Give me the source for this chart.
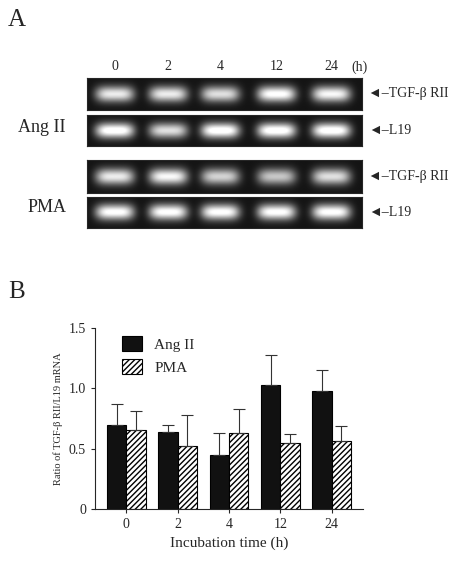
import numpy as np, pandas as pd, matplotlib
matplotlib.use("Agg")
import matplotlib.pyplot as plt, seaborn as sns

times = ["0", "2", "4", "12", "24"]
ang_mean = [0.70, 0.635, 0.45, 1.03, 0.98]
ang_top = [0.87, 0.70, 0.63, 1.28, 1.15]
pma_mean = [0.655, 0.52, 0.63, 0.55, 0.56]
pma_top = [0.81, 0.78, 0.83, 0.62, 0.69]
gel_ang_tgf = [0.85, 0.85, 0.8, 0.95, 0.9]
gel_ang_l19 = [1.0, 0.8, 1.0, 1.0, 1.0]
gel_pma_tgf = [0.85, 0.9, 0.75, 0.7, 0.8]
gel_pma_l19 = [0.95, 0.95, 0.95, 0.95, 0.95]

sns.set_style("ticks")
plt.rcParams["font.family"] = ["Liberation Serif", "DejaVu Serif"]
fig = plt.figure(figsize=(4.74, 5.69), dpi=100)
H = 569.0
def fax(x0, y0, x1, y1):
    return fig.add_axes([x0/474, 1-y1/H, (x1-x0)/474, (y1-y0)/H])

# gels
rows = [(78, 110, gel_ang_tgf, "TGF-β RII"), (115, 146, gel_ang_l19, "L19"),
        (160, 193, gel_pma_tgf, "TGF-β RII"), (197, 228, gel_pma_l19, "L19")]
lane_pos = [0.10, 0.295, 0.485, 0.69, 0.89]
xx, yy = np.meshgrid(np.linspace(0, 1, 300), np.linspace(0, 1, 40))
for y0, y1, inten, lab in rows:
    a = fax(87, y0, 362, y1)
    img = np.full_like(xx, 0.08)
    for p, v in zip(lane_pos, inten):
        img += v * np.exp(-(((xx-p)/0.07)**4) - (((yy-0.5)/0.25)**2))
    a.imshow(img, cmap="gray", vmin=0, vmax=1, aspect="auto")
    a.set_xticks([]); a.set_yticks([])
    fig.text(368/474, 1-((y0+y1)/2)/H, "◄–" + lab, fontsize=10, va="center",
             family=["Liberation Serif", "DejaVu Sans"])
for t, p in zip(times, lane_pos):
    fig.text((87+p*275)/474, 1-67/H, t, ha="center", va="center", fontsize=10)
fig.text(360/474, 1-67/H, "(h)", ha="center", va="center", fontsize=10)
fig.text(8/474, 1-20/H, "A", fontsize=18, va="center")
fig.text(18/474, 1-128/H, "Ang II", fontsize=13, va="center")
fig.text(28/474, 1-208/H, "PMA", fontsize=13, va="center")
fig.text(8/474, 1-292/H, "B", fontsize=18, va="center")

# bar chart
ax = fax(95, 328, 363, 509)
df = pd.DataFrame({"time": times*2, "ratio": ang_mean+pma_mean,
                   "grp": ["Ang II"]*5 + ["PMA"]*5})
sns.barplot(data=df, x="time", y="ratio", hue="grp", order=times,
            palette=["#111111", "white"], edgecolor="black", linewidth=0.8,
            errorbar=None, width=0.75, ax=ax)
tops = ang_top + pma_top
means = ang_mean + pma_mean
for i, bar in enumerate(ax.patches[:10]):
    if i >= 5:
        bar.set_hatch("//////")
    cx = bar.get_x() + bar.get_width()/2
    ax.errorbar(cx, means[i], yerr=[[0], [tops[i]-means[i]]], color="#333333",
                capsize=4, lw=0.8, capthick=0.8)
ax.set_ylim(0, 1.5)
ax.set_yticks([0, 0.5, 1.0, 1.5]); ax.set_yticklabels(["0", "0.5", "1.0", "1.5"])
ax.set_xlabel("Incubation time (h)", fontsize=11)
ax.set_ylabel("Ratio of TGF-β RII/L19 mRNA", fontsize=7.5)
ax.tick_params(labelsize=10, direction="out", length=3)
sns.despine(ax=ax)
h, l = ax.get_legend_handles_labels()
h[1].set_hatch("//////")
ax.legend(h, l, loc="upper left", bbox_to_anchor=(0.05, 1.03), frameon=False,
          fontsize=11, handlelength=1.3, handleheight=1.1)
fig.savefig("out.png", dpi=100)
